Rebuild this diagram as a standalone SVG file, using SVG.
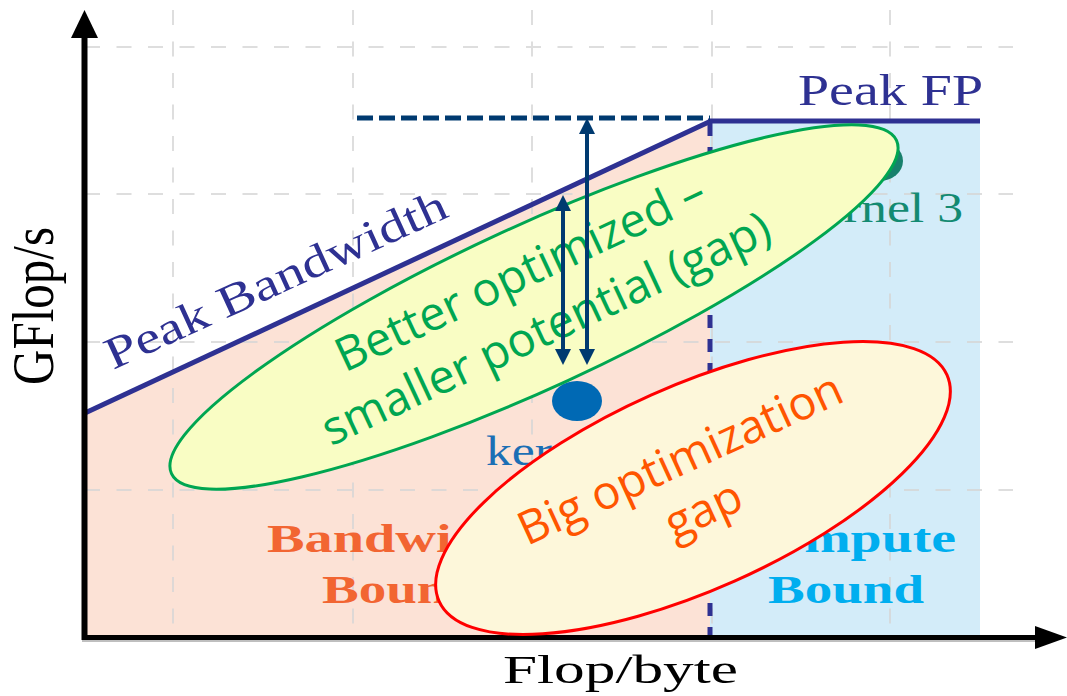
<svg xmlns="http://www.w3.org/2000/svg" width="1067" height="696" viewBox="0 0 1067 696">
  <style>
    .grid { stroke: #D6D6D6; stroke-width: 2; stroke-dasharray: 15 16.5; opacity: 0.8; fill: none; }
    .roof { stroke: #2E3192; stroke-width: 5; fill: none; }
    .axis { stroke: #000000; fill: none; }
    .serif { font-family: "Liberation Serif", "Times New Roman", serif; }
    .sans { font-family: "Open Sans", "Noto Sans", "DejaVu Sans", sans-serif; }
    .gap { stroke: #003A70; stroke-width: 4; fill: none; }
  </style>
  <defs>
    <marker id="head" viewBox="0 0 10 10" refX="0" refY="5" markerWidth="16" markerHeight="16" markerUnits="userSpaceOnUse" orient="auto-start-reverse">
      <path d="M0,0 L10,5 L0,10 z" fill="#003A70"/>
    </marker>
  </defs>

  <rect width="1067" height="696" fill="#FFFFFF"/>

  <!-- region fills -->
  <g id="regions">
    <polygon points="87,413 710,121 710,636 87,636" fill="#FCE2D6"/>
    <rect x="710" y="121" width="270" height="515" fill="#D3ECF9"/>
  </g>

  <!-- background grid -->
  <g id="grid" class="grid">
    <line x1="173" y1="10" x2="173" y2="636"/>
    <line x1="353" y1="10" x2="353" y2="636"/>
    <line x1="532" y1="10" x2="532" y2="636"/>
    <line x1="712" y1="10" x2="712" y2="636"/>
    <line x1="890" y1="10" x2="890" y2="636"/>
    <line x1="85" y1="47" x2="1013" y2="47"/>
    <line x1="85" y1="194" x2="1013" y2="194"/>
    <line x1="85" y1="342" x2="1013" y2="342"/>
    <line x1="85" y1="490" x2="1013" y2="490"/>
  </g>

  <!-- roofline -->
  <g id="roofline">
    <line class="roof" x1="85" y1="413" x2="711" y2="121"/>
    <line class="roof" x1="708" y1="121" x2="980" y2="121"/>
    <line class="roof" x1="710" y1="123" x2="710" y2="636" stroke-dasharray="13 11"/>
    <line x1="357" y1="118" x2="710" y2="118" stroke="#003A70" stroke-width="5" stroke-dasharray="16 6"/>
    <text class="serif" x="798" y="105" font-size="45" fill="#2E3192" textLength="185" lengthAdjust="spacingAndGlyphs">Peak FP</text>
    <text class="serif" transform="translate(113,370) rotate(-24.5)" font-size="45" fill="#2E3192" textLength="371" lengthAdjust="spacingAndGlyphs">Peak Bandwidth</text>
  </g>

  <!-- axes -->
  <g id="axes">
    <line x1="82" y1="641" x2="1035" y2="641" stroke="#AAAAAA" stroke-width="1.5"/>
    <line class="axis" x1="84.5" y1="640" x2="84.5" y2="36" stroke-width="6"/>
    <polygon points="84.5,10 71,38 98,38" fill="#000000"/>
    <line class="axis" x1="82" y1="637.5" x2="1038" y2="637.5" stroke-width="5"/>
    <polygon points="1067,637.5 1035,626 1035,649" fill="#000000"/>
    <text class="serif" transform="translate(53,385) scale(1.2,1) rotate(-90)" font-size="50" fill="#000000" textLength="158" lengthAdjust="spacingAndGlyphs">GFlop/s</text>
    <text class="serif" x="503" y="683" font-size="40" fill="#000000" textLength="235" lengthAdjust="spacingAndGlyphs">Flop/byte</text>
  </g>

  <!-- region labels -->
  <g id="bandwidth-bound">
    <text class="serif" x="267" y="552" font-size="40" font-weight="bold" fill="#F26532" textLength="266" lengthAdjust="spacingAndGlyphs">Bandwidth</text>
    <text class="serif" x="322" y="603" font-size="40" font-weight="bold" fill="#F26532" textLength="156" lengthAdjust="spacingAndGlyphs">Bound</text>
  </g>
  <g id="compute-bound">
    <text class="serif" x="736" y="552" font-size="40" font-weight="bold" fill="#00AEEF" textLength="220" lengthAdjust="spacingAndGlyphs">Compute</text>
    <text class="serif" x="768" y="603" font-size="40" font-weight="bold" fill="#00AEEF" textLength="156" lengthAdjust="spacingAndGlyphs">Bound</text>
  </g>

  <!-- kernels -->
  <g id="kernel-3">
    <ellipse cx="879" cy="161" rx="24" ry="20" fill="#17806C"/>
    <text class="serif" x="795" y="222" font-size="42" fill="#138A72" textLength="168" lengthAdjust="spacingAndGlyphs">kernel 3</text>
  </g>
  <g id="kernel-2">
    <ellipse cx="577" cy="401" rx="25" ry="20" fill="#0069B4"/>
    <text class="serif" x="486" y="465" font-size="42" fill="#1B6FB5" textLength="168" lengthAdjust="spacingAndGlyphs">kernel 2</text>
  </g>

  <!-- better-optimized callout -->
  <g id="better-optimized">
    <ellipse cx="534" cy="307" rx="399" ry="81" transform="rotate(-24.7 534 307)" fill="#F9FDC4" stroke="#00A651" stroke-width="3"/>
    <g transform="translate(535,305) rotate(-25)" class="sans" font-size="47" fill="#00A651" text-anchor="middle">
      <text x="0" y="-19">Better optimized –</text>
      <text x="0" y="42">smaller potential (gap)</text>
    </g>
  </g>

  <!-- gap arrows -->
  <g id="connectors">
    <line class="gap" x1="587" y1="134" x2="587" y2="349" marker-start="url(#head)" marker-end="url(#head)"/>
    <line class="gap" x1="563" y1="211" x2="563" y2="349" marker-start="url(#head)" marker-end="url(#head)"/>
  </g>

  <!-- big-gap callout -->
  <g id="big-gap">
    <ellipse cx="693" cy="488" rx="278" ry="102" transform="rotate(-24 693 488)" fill="#FDF7DA" stroke="#FF0000" stroke-width="3"/>
    <g transform="translate(693,487) rotate(-24.5)" class="sans" font-size="46.5" fill="#FF5500" text-anchor="middle">
      <text x="0" y="-15">Big optimization</text>
      <text x="0" y="41">gap</text>
    </g>
  </g>
</svg>
